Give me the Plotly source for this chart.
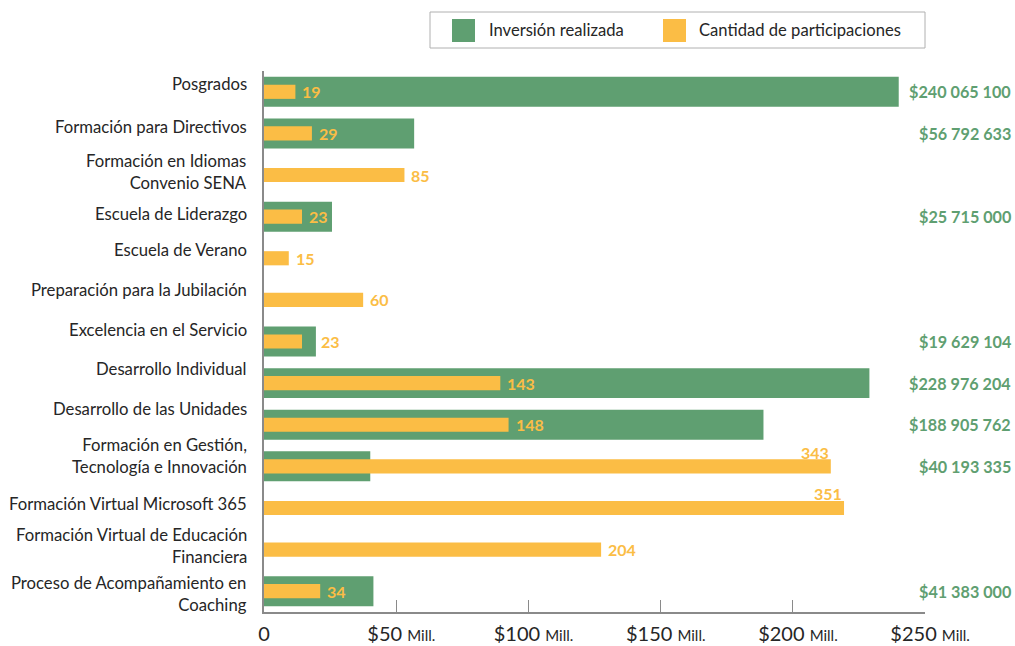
import plotly.graph_objects as go

# ---------------- data ----------------
categories = [
    "Posgrados",
    "Formación para Directivos",
    "Formación en Idiomas<br>Convenio SENA",
    "Escuela de Liderazgo",
    "Escuela de Verano",
    "Preparación para la Jubilación",
    "Excelencia en el Servicio",
    "Desarrollo Individual",
    "Desarrollo de las Unidades",
    "Formación en Gestión,<br>Tecnología e Innovación",
    "Formación Virtual Microsoft 365",
    "Formación Virtual de Educación<br>Financiera",
    "Proceso de Acompañamiento en<br>Coaching",
]
inversion = [240065100, 56792633, None, 25715000, None, None, 19629104,
             228976204, 188905762, 40193335, None, None, 41383000]
participaciones = [19, 29, 85, 23, 15, 60, 23, 143, 148, 343, 351, 204, 34]
tick_vals = [0, 50e6, 100e6, 150e6, 200e6, 250e6]
tick_nums = ["0", "$50", "$100", "$150", "$200", "$250"]
series_names = ["Inversión realizada", "Cantidad de participaciones"]

# ---------------- style ----------------
GREEN = "#5f9f71"
ORANGE = "#fbbd45"
TEXT = "#262626"
AXIS = "#8a8a8a"
FONT = "Lato"
W, H = 1015, 646
PL, PR, PT, PB = 264, 925, 71, 612  # plot area in window pixels
L, R, T, B = PL, W - PR, PT, H - PB
PW, PH = PR - PL, PB - PT
label_dy = [8, 6, 3, 3, 8, 10, 12, 14, 16, 10, 4, 4, -3]
value_dx = [5, 5, 5, 5, 5, 5, 17, 5, 5, 0, 0, 5, 5]

def px(xp):
    return (xp - PL) / PW

def py(yp):
    return (PB - yp) / PH

ys = list(range(len(categories)))

fig = go.Figure()
fig.add_trace(go.Bar(
    y=ys, x=inversion, orientation="h", name=series_names[0],
    marker=dict(color=GREEN, line=dict(width=0)), width=0.72,
    xaxis="x", yaxis="y", showlegend=False, hoverinfo="x+y",
))
fig.add_trace(go.Bar(
    y=ys, x=participaciones, orientation="h", name=series_names[1],
    marker=dict(color=ORANGE, line=dict(width=0)), width=0.34,
    xaxis="x2", yaxis="y", showlegend=False, hoverinfo="x+y",
))

ann = []
# category labels
for i, c in enumerate(categories):
    ann.append(dict(
        xref="paper", yref="y", x=0, y=i, xshift=-15, yshift=label_dy[i],
        text=c, showarrow=False, xanchor="right", yanchor="middle", align="right",
        font=dict(family=FONT, size=16.7, color=TEXT),
    ))
# participation value labels
for i, v in enumerate(participaciones):
    if v > 300:
        ann.append(dict(
            xref="x2", yref="y", x=v, y=i, yshift=14, text=f"<b>{v}</b>",
            showarrow=False, xanchor="right", yanchor="middle",
            font=dict(family=FONT, size=16, color=ORANGE),
        ))
    else:
        ann.append(dict(
            xref="x2", yref="y", x=v, y=i, xshift=value_dx[i], text=f"<b>{v}</b>",
            showarrow=False, xanchor="left", yanchor="middle",
            font=dict(family=FONT, size=16, color=ORANGE),
        ))
# investment value labels (right column)
for i, v in enumerate(inversion):
    if v is None:
        continue
    txt = "$" + f"{v:,}".replace(",", " ")
    ann.append(dict(
        xref="paper", yref="y", x=px(1013), y=i, text=f"<b>{txt}</b>",
        showarrow=False, xanchor="right", yanchor="middle",
        font=dict(family=FONT, size=16.2, color=GREEN),
    ))

# manual legend
shapes = [
    dict(type="rect", xref="paper", yref="paper", x0=px(430), x1=px(925),
         y0=py(48), y1=py(12), line=dict(color="#b0b0b0", width=1), fillcolor="white"),
    dict(type="rect", xref="paper", yref="paper", x0=px(452), x1=px(475),
         y0=py(42), y1=py(19), line=dict(width=0), fillcolor=GREEN),
    dict(type="rect", xref="paper", yref="paper", x0=px(663), x1=px(686),
         y0=py(42), y1=py(19), line=dict(width=0), fillcolor=ORANGE),
]
ann.append(dict(xref="paper", yref="paper", x=px(487), y=py(30), text=series_names[0],
                showarrow=False, xanchor="left", yanchor="middle",
                font=dict(family=FONT, size=16.6, color=TEXT)))
ann.append(dict(xref="paper", yref="paper", x=px(697), y=py(30), text=series_names[1],
                showarrow=False, xanchor="left", yanchor="middle",
                font=dict(family=FONT, size=16.6, color=TEXT)))

tick_text = [
    n if n == "0" else "\u00a0\u00a0" + n + "\u00a0<span style='font-size:15px'>Mill.</span>"
    for n in tick_nums
]

fig.update_layout(
    width=W, height=H,
    margin=dict(l=L, r=R, t=T, b=B, pad=0, autoexpand=False),
    plot_bgcolor="white", paper_bgcolor="white",
    barmode="overlay", showlegend=False,
    font=dict(family=FONT, color=TEXT),
    xaxis=dict(
        range=[0, 250e6], tickvals=tick_vals, ticktext=tick_text, automargin=False,
        showgrid=False, zeroline=False, showline=True, linecolor=AXIS, linewidth=1.5,
        ticks="inside", ticklen=12, tickcolor=AXIS, tickwidth=1,
        tickfont=dict(family=FONT, size=20, color=TEXT), ticklabelstandoff=3,
    ),
    xaxis2=dict(
        range=[0, 400], overlaying="x", side="bottom", visible=False,
    ),
    yaxis=dict(
        range=[len(categories) - 0.5, -0.5], showticklabels=False, ticks="",
        automargin=False,
        showgrid=False, zeroline=False, showline=True, linecolor=AXIS, linewidth=1.5,
    ),
    annotations=ann,
    shapes=shapes,
)

fig.write_html(
    "out.html",
    config={"displayModeBar": False},
    post_script=(
        "document.body.style.margin='0';"
        "document.body.style.overflow='hidden';"
        "document.documentElement.style.overflow='hidden';"
    ),
)
